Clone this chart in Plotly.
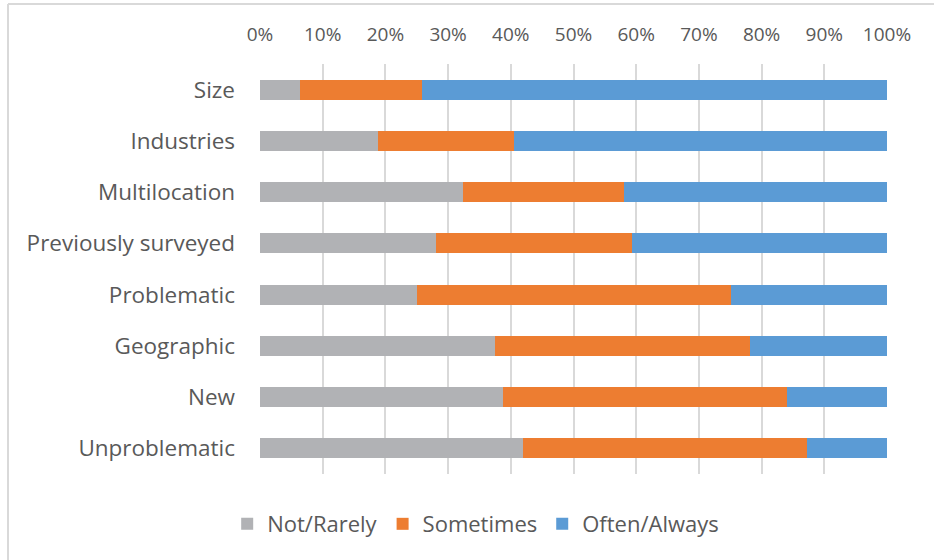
import plotly.graph_objects as go

categories = ["Size", "Industries", "Multilocation", "Previously surveyed",
              "Problematic", "Geographic", "New", "Unproblematic"]
not_rarely = [6.4, 18.8, 32.3, 28.1, 25.0, 37.5, 38.8, 42.0]
cum_sometimes = [25.8, 40.5, 58.1, 59.3, 75.1, 78.2, 84.0, 87.2]
sometimes = [round(c - n, 1) for c, n in zip(cum_sometimes, not_rarely)]
often_always = [round(100 - c, 1) for c in cum_sometimes]
tick_vals = [0, 10, 20, 30, 40, 50, 60, 70, 80, 90, 100]
tick_text = [f"{v}%" for v in tick_vals]

series = [("Not/Rarely", not_rarely, "#B1B2B5"),
          ("Sometimes", sometimes, "#ED7D31"),
          ("Often/Always", often_always, "#5B9BD5")]

FONT = "Open Sans"
TXT = "#595959"

fig = go.Figure()
for name, vals, col in series:
    fig.add_trace(go.Bar(
        y=categories, x=vals, name=name, orientation="h",
        marker=dict(color=col, line=dict(width=0)),
        hoverinfo="x+y+name",
    ))

fig.update_layout(
    width=934, height=560,
    barmode="stack", bargap=0.61,
    paper_bgcolor="white", plot_bgcolor="white",
    margin=dict(l=260, r=47, t=64, b=86),
    font=dict(family=FONT, color=TXT, size=21),
    legend=dict(orientation="h", x=0.344, xanchor="center",
                y=-0.122, yanchor="middle",
                font=dict(size=22, color=TXT, family=FONT),
                itemwidth=30, traceorder="normal"),
    xaxis=dict(side="top", range=[0, 100], tickvals=tick_vals,
               ticktext=tick_text, showgrid=True, gridcolor="#D9D9D9",
               gridwidth=2, zeroline=False, showline=False, ticks="",
               ticklabelstandoff=18, fixedrange=True,
               tickfont=dict(size=19)),
    yaxis=dict(autorange="reversed", showgrid=False, showline=False,
               ticks="", ticklabelstandoff=24, fixedrange=True,
               tickfont=dict(size=22.5)),
    shapes=[
        dict(type="line", xref="paper", yref="paper",
             x0=(8 - 260) / 627, x1=(8 - 260) / 627,
             y0=(474 - 4) / 410, y1=(474 - 562) / 410,
             line=dict(color="#D9D9D9", width=2)),
        dict(type="line", xref="paper", yref="paper",
             x0=(8 - 260) / 627, x1=(936 - 260) / 627,
             y0=(474 - 4) / 410, y1=(474 - 4) / 410,
             line=dict(color="#D9D9D9", width=2)),
    ],
)

fig.write_html("out.html")
